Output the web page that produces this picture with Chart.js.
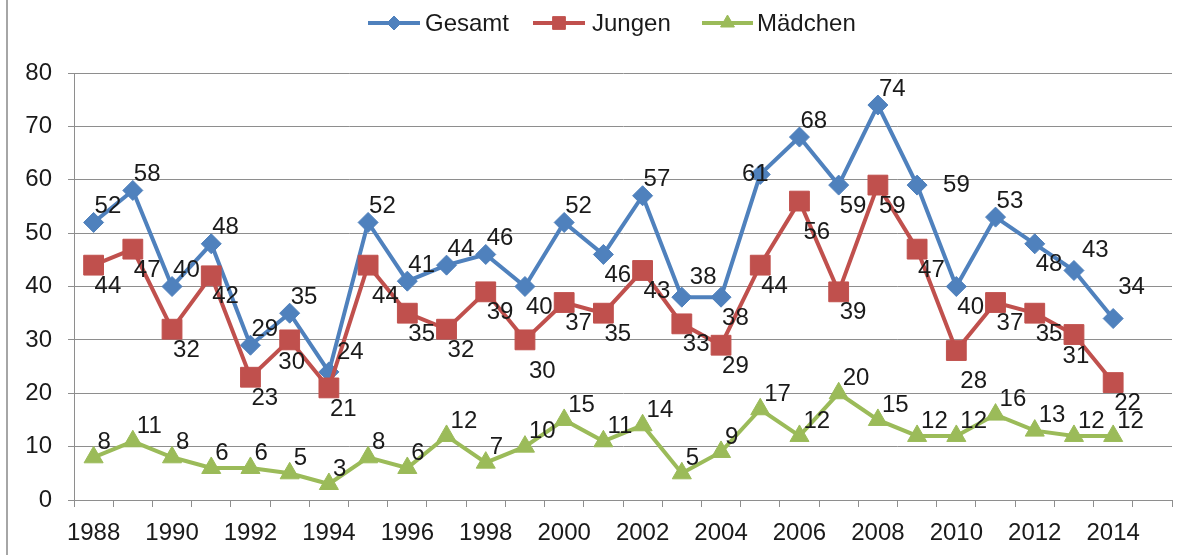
<!DOCTYPE html>
<html><head><meta charset="utf-8">
<script src="https://cdn.jsdelivr.net/npm/chart.js@4/dist/chart.umd.min.js"></script>
<style>html,body{margin:0;padding:0;background:#fff;overflow:hidden}#wrap{width:1201px;height:555px;position:relative}</style>
</head><body><div id="wrap"><canvas id="c" width="1201" height="555"></canvas></div>
<script>
// ---- data ----
const years = [1988,1989,1990,1991,1992,1993,1994,1995,1996,1997,1998,1999,2000,2001,2002,2003,2004,2005,2006,2007,2008,2009,2010,2011,2012,2013,2014,2015];
const gesamt   = [52,58,40,48,29,35,24,52,41,44,46,40,52,46,57,38,38,61,68,59,74,59,40,53,48,43,34,null];
const jungen   = [44,47,32,42,23,30,21,44,35,32,39,30,37,35,43,33,29,44,56,39,59,47,28,37,35,31,22,null];
const maedchen = [8,11,8,6,6,5,3,8,6,12,7,10,15,11,14,5,9,17,12,20,15,12,12,16,13,12,12,null];
const seriesNames = ['Gesamt','Jungen','Mädchen'];
const yTickValues = [0,10,20,30,40,50,60,70,80];

// ---- label placement (keywords) ----
const labelDefault = {0:'above', 1:'below', 2:'mAbove'};
const labelExceptions = {
  0: {1994:'upRight',1999:'below',2001:'below',2003:'upRight',2004:'below',2005:'center',2007:'below',2009:'right',2010:'below',2012:'below',2013:'upRight',2014:'high'},
  1: {1993:'belowC',1995:'low',1999:'low',2006:'low',2010:'low',2013:'belowC'},
  2: {}
};
const placements = {
  above:{dx:1,dy:-16,align:'left'}, below:{dx:1,dy:21,align:'left'},
  upRight:{dx:8,dy:-20,align:'left'}, high:{dx:5,dy:-31,align:'left'},
  right:{dx:26,dy:0,align:'left'}, center:{dx:-5,dy:0,align:'center'},
  low:{dx:4,dy:31,align:'left'}, belowC:{dx:2,dy:22,align:'center'},
  mAbove:{dx:4,dy:-15,align:'left'}
};

const BLUE='#4F81BD', RED='#C0504D', GREEN='#9BBB59', GRID='#8e8e8e', TXT='#1a1a1a';
const FONT = "'Liberation Sans', Arial, sans-serif";
const FS = 24;

const labelPlugin = {
  id:'labels',
  afterDatasetsDraw(chart){
    const ctx = chart.ctx;
    ctx.save();
    ctx.font = FS + 'px ' + FONT;
    ctx.fillStyle = TXT;
    ctx.textBaseline = 'middle';
    chart.data.datasets.forEach((ds, di) => {
      const meta = chart.getDatasetMeta(di);
      meta.data.forEach((pt, i) => {
        const v = ds.data[i];
        if (v === null || v === undefined) return;
        const key = (labelExceptions[di] && labelExceptions[di][years[i]]) || labelDefault[di];
        const p = placements[key];
        ctx.textAlign = p.align;
        ctx.fillText(String(v), pt.x + p.dx, pt.y + p.dy);
      });
    });
    ctx.restore();
  }
};

const framePlugin = {
  id:'frame',
  beforeDraw(chart){
    const ctx = chart.ctx;
    ctx.save();
    ctx.fillStyle = '#fff';
    ctx.fillRect(0,0,chart.width,chart.height);
    ctx.strokeStyle = '#a6a6a6';
    ctx.lineWidth = 2;
    ctx.beginPath(); ctx.moveTo(7,0); ctx.lineTo(7,chart.height); ctx.stroke();
    ctx.restore();
  },
  afterDraw(chart){
    // legend
    const ctx = chart.ctx;
    const items = [
      {x1:368,x2:420,tx:425,color:BLUE,style:'rectRot',r:7},
      {x1:533,x2:585,tx:592,color:RED,style:'rect',r:9},
      {x1:702,x2:753,tx:757,color:GREEN,style:'triangle',r:8}
    ];
    const y = 23;
    ctx.save();
    items.forEach((it, k) => {
      ctx.strokeStyle = it.color; ctx.lineWidth = 4; ctx.lineCap = 'butt';
      ctx.beginPath(); ctx.moveTo(it.x1,y); ctx.lineTo(it.x2,y); ctx.stroke();
      ctx.fillStyle = it.color; ctx.strokeStyle = it.color; ctx.lineWidth = 1;
      Chart.helpers.drawPoint(ctx, {pointStyle: it.style, radius: it.r, rotation: 0, borderWidth: 1}, (it.x1+it.x2)/2, y);
      ctx.fillStyle = TXT;
      ctx.font = FS + 'px ' + FONT;
      ctx.textAlign = 'left'; ctx.textBaseline = 'middle';
      ctx.fillText(seriesNames[k], it.tx, y + 1);
    });
    ctx.restore();
  }
};

function mkDs(label, data, color, style, radius, order){
  return {label, data, borderColor: color, backgroundColor: color, borderWidth: 4,
    pointStyle: style, pointRadius: radius, pointHoverRadius: radius, pointBorderWidth: 1,
    pointBackgroundColor: color, pointBorderColor: color, tension: 0, spanGaps: false, order};
}

new Chart(document.getElementById('c'), {
  type: 'line',
  data: {
    labels: years.map(String),
    datasets: [
      mkDs(seriesNames[0], gesamt, BLUE, 'rectRot', 10, 3),
      mkDs(seriesNames[1], jungen, RED, 'rect', 14, 2),
      mkDs(seriesNames[2], maedchen, GREEN, 'triangle', 11, 1)
    ]
  },
  options: {
    responsive: false, animation: false, devicePixelRatio: 1,
    layout: {padding: {top: 73, right: 29, left: 0, bottom: 0}},
    plugins: {legend: {display: false}, tooltip: {enabled: false}},
    scales: {
      x: {
        type: 'category', offset: true,
        grid: {offset: true, drawOnChartArea: false, tickLength: 7, color: GRID, tickColor: GRID, tickWidth: 1},
        border: {color: GRID, width: 1},
        ticks: {autoSkip: false, maxRotation: 0, minRotation: 0, padding: 12, color: TXT,
          font: {family: FONT, size: FS},
          callback: (v, i) => (i % 2 === 0 ? years[i] : '')},
        afterFit: s => { s.height = 55; }
      },
      y: {
        min: 0, max: 80,
        afterBuildTicks: s => { s.ticks = yTickValues.map(v => ({value: v})); },
        grid: {color: GRID, tickLength: 6, tickColor: GRID, lineWidth: 1},
        border: {color: GRID, width: 1},
        ticks: {padding: 16, color: TXT, font: {family: FONT, size: FS}},
        afterFit: s => { s.width = 74; }
      }
    }
  },
  plugins: [framePlugin, labelPlugin]
});
</script></body></html>
